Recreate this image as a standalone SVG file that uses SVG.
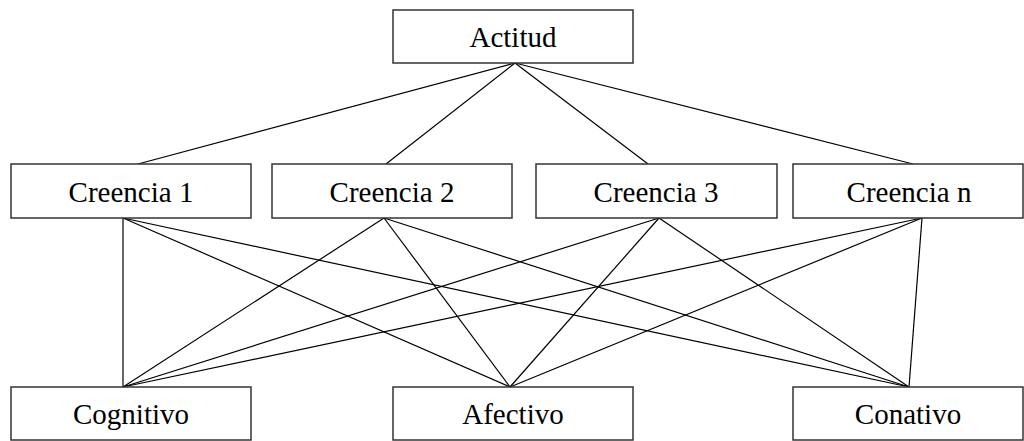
<svg xmlns="http://www.w3.org/2000/svg" width="1024" height="441" viewBox="0 0 1024 441">
  <style>
    .box { fill: #ffffff; stroke: #333333; stroke-width: 1.5; }
    .label { font-family: "Liberation Serif", "Times New Roman", serif; font-size: 29px; fill: #000000; text-anchor: middle; }
    .edge { stroke: #000000; stroke-width: 1.2; fill: none; }
  </style>
  <rect width="1024" height="441" fill="#ffffff"/>

  <!-- connectors -->
  <g id="connectors">
    <!-- attitude to beliefs -->
    <line class="edge" x1="515" y1="63" x2="138" y2="164"/>
    <line class="edge" x1="515" y1="63" x2="386" y2="164"/>
    <line class="edge" x1="515" y1="63" x2="648" y2="164"/>
    <line class="edge" x1="515" y1="63" x2="913" y2="164"/>
    <!-- beliefs to components -->
    <line class="edge" x1="123" y1="218" x2="123" y2="387"/>
    <line class="edge" x1="123" y1="218" x2="510" y2="387"/>
    <line class="edge" x1="123" y1="218" x2="909" y2="387"/>
    <line class="edge" x1="384" y1="218" x2="123" y2="387"/>
    <line class="edge" x1="384" y1="218" x2="510" y2="387"/>
    <line class="edge" x1="384" y1="218" x2="909" y2="387"/>
    <line class="edge" x1="659" y1="218" x2="123" y2="387"/>
    <line class="edge" x1="659" y1="218" x2="510" y2="387"/>
    <line class="edge" x1="659" y1="218" x2="909" y2="387"/>
    <line class="edge" x1="922" y1="218" x2="123" y2="387"/>
    <line class="edge" x1="922" y1="218" x2="510" y2="387"/>
    <line class="edge" x1="922" y1="218" x2="909" y2="387"/>
  </g>

  <g id="actitud">
    <rect class="box" x="393" y="10" width="240" height="53"/>
    <text class="label" x="513" y="47">Actitud</text>
  </g>

  <g id="creencia-1">
    <rect class="box" x="11" y="164" width="240" height="54"/>
    <text class="label" x="131" y="202">Creencia 1</text>
  </g>
  <g id="creencia-2">
    <rect class="box" x="272" y="164" width="240" height="54"/>
    <text class="label" x="392" y="202">Creencia 2</text>
  </g>
  <g id="creencia-3">
    <rect class="box" x="536" y="164" width="241" height="54"/>
    <text class="label" x="656" y="202">Creencia 3</text>
  </g>
  <g id="creencia-n">
    <rect class="box" x="793" y="164" width="230" height="54"/>
    <text class="label" x="909" y="202">Creencia n</text>
  </g>

  <g id="cognitivo">
    <rect class="box" x="11" y="387" width="240" height="53"/>
    <text class="label" x="131" y="424">Cognitivo</text>
  </g>
  <g id="afectivo">
    <rect class="box" x="393" y="387" width="240" height="53"/>
    <text class="label" x="513" y="424">Afectivo</text>
  </g>
  <g id="conativo">
    <rect class="box" x="793" y="387" width="230" height="53"/>
    <text class="label" x="908" y="424">Conativo</text>
  </g>
</svg>
